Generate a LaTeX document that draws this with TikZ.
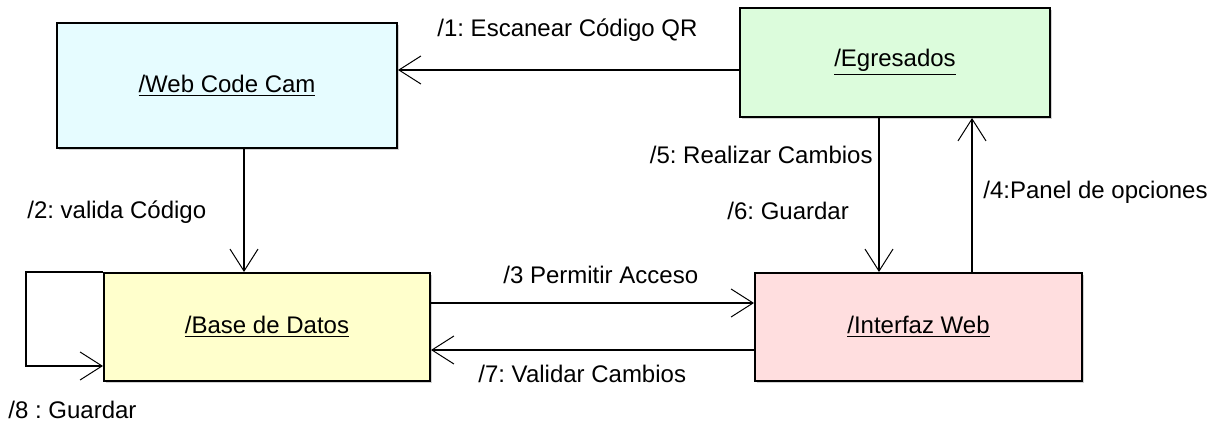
\documentclass[tikz,border=0pt]{standalone}
\usepackage{fontspec}
\setmainfont{Liberation Sans}
\usetikzlibrary{arrows.meta,shadows}
\definecolor{camfill}{HTML}{E6FCFF}
\definecolor{egrfill}{HTML}{DCFCDC}
\definecolor{bdfill}{HTML}{FFFFCC}
\definecolor{iwfill}{HTML}{FFDEDF}
\frenchspacing
\begin{document}
\begin{tikzpicture}[x=0.5pt,y=-0.5pt,font=\fontsize{12pt}{14pt}\selectfont,
  obj/.style={draw,line width=1pt,inner sep=0pt,
    drop shadow={shadow xshift=1pt,shadow yshift=-1pt,fill=black!35,opacity=.5}},
  msg/.style={-{Straight Barb[length=11pt,width=14pt,line width=0.5pt]},line width=0.6pt},
  lbl/.style={inner sep=0pt}]
\useasboundingbox (0,0) rectangle (1218,431);
% objetos
\node[obj,fill=camfill,minimum width=170pt,minimum height=62.5pt] (cam) at (227,85.5) {\underline{/Web Code Cam}};
\node[obj,fill=egrfill,minimum width=155pt,minimum height=54.5pt] (egr) at (895,62.5) {\underline{/Egresados}};
\node[obj,fill=bdfill,minimum width=163pt,minimum height=54pt] (bd) at (267,327) {\underline{/Base de Datos}};
\node[obj,fill=iwfill,minimum width=163.5pt,minimum height=54pt] (iw) at (918.5,327) {\underline{/Interfaz Web}};
% mensajes
\draw[msg] ([yshift=-3.75pt]egr.west) -- ([yshift=-3.75pt]egr.west -| cam.east);
\draw[msg] ([xshift=8.5pt]cam.south) -- ([xshift=8.5pt]cam.south |- bd.north);
\draw[msg] ([yshift=12pt]bd.east) -- ([yshift=12pt]bd.east -| iw.west);
\draw[msg] ([yshift=-11.5pt]iw.west) -- ([yshift=-11.5pt]iw.west -| bd.east);
\draw[msg] ([xshift=-8pt]egr.south) -- ([xshift=-8pt]egr.south |- iw.north);
\draw[msg] ([xshift=26.75pt]iw.north) -- ([xshift=26.75pt]iw.north |- egr.south);
\draw[msg] (bd.north west) -- ++(-77,0) |- ([yshift=-19.5pt]bd.west);
% etiquetas
\node[lbl,anchor=west] (l1) at (437,30) {/1: Escanear Código QR};
\node[lbl,anchor=west] (l2) at (27,212) {/2: valida Código};
\node[lbl,anchor=west] (l3) at (503,275) {/3 Permitir Acceso};
\node[lbl,anchor=west] (l7) at (478,374) {/7: Validar Cambios};
\node[lbl,anchor=east] (l5) at (873,155) {/5: Realizar Cambios};
\node[lbl,anchor=west] (l6) at (727,211) {/6: Guardar};
\node[lbl,anchor=west] (l4) at (983,192) {/4:Panel de opciones};
\node[lbl,anchor=west] (l8) at (8,410) {/8 : Guardar};
\end{tikzpicture}
\end{document}
